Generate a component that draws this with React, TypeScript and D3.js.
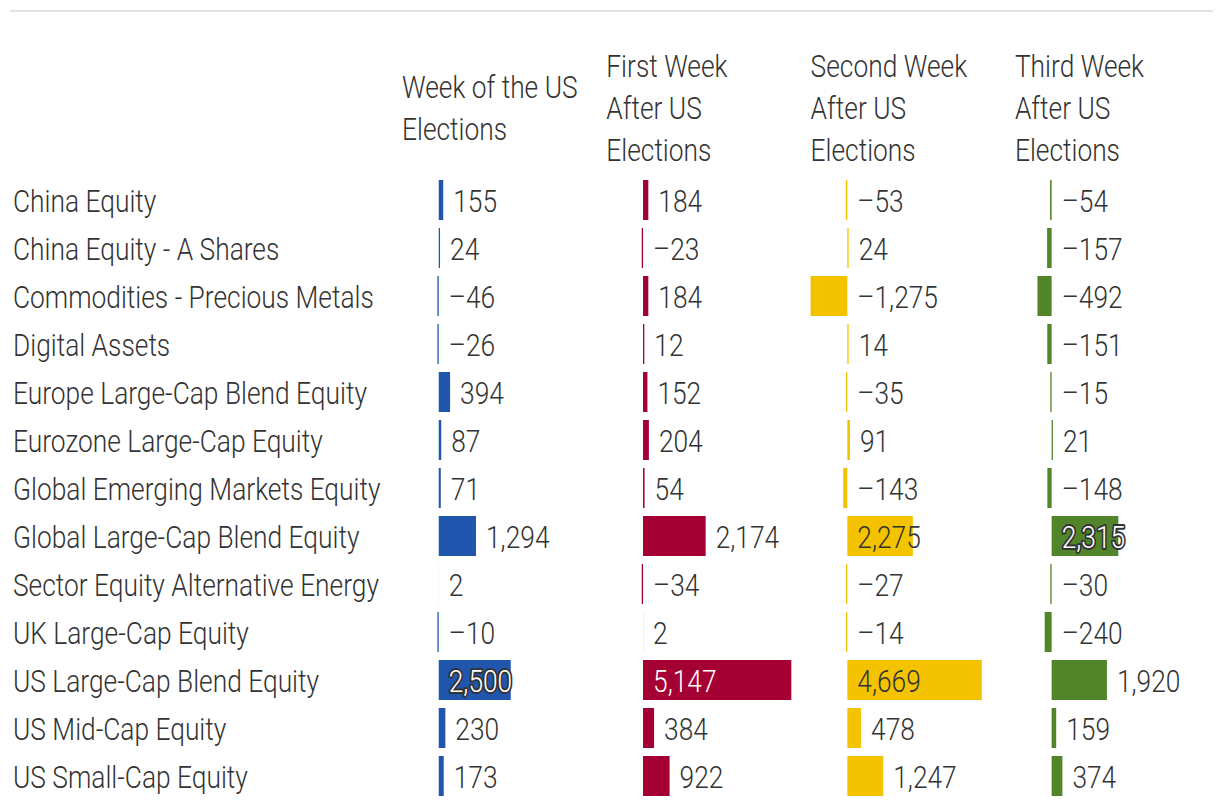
import React from "react";
import * as d3 from "d3";

const categories = [
  "China Equity",
  "China Equity - A Shares",
  "Commodities - Precious Metals",
  "Digital Assets",
  "Europe Large-Cap Blend Equity",
  "Eurozone Large-Cap Equity",
  "Global Emerging Markets Equity",
  "Global Large-Cap Blend Equity",
  "Sector Equity Alternative Energy",
  "UK Large-Cap Equity",
  "US Large-Cap Blend Equity",
  "US Mid-Cap Equity",
  "US Small-Cap Equity",
];

const columnHeaders = [
  ["Week of the US", "Elections"],
  ["First Week", "After US", "Elections"],
  ["Second Week", "After US", "Elections"],
  ["Third Week", "After US", "Elections"],
];

const weekOf = [155, 24, -46, -26, 394, 87, 71, 1294, 2, -10, 2500, 230, 173];
const firstWeek = [184, -23, 184, 12, 152, 204, 54, 2174, -34, 2, 5147, 384, 922];
const secondWeek = [-53, 24, -1275, 14, -35, 91, -143, 2275, -27, -14, 4669, 478, 1247];
const thirdWeek = [-54, -157, -492, -151, -15, 21, -148, 2315, -30, -240, 1920, 159, 374];

const series = [weekOf, firstWeek, secondWeek, thirdWeek];
const colors = ["#2156ae", "#a50034", "#f4c300", "#52852a"];
const insideFill = ["#ffffff", "#ffffff", "#333333", "#ffffff"];
const insideHalo = [true, false, false, true];

const W = 1220;
const H = 806;
const FONT = "Roboto, 'Liberation Sans', sans-serif";
const FS = 31;
const SX = 0.85;

function T(props: {
  x: number;
  y: number;
  children: React.ReactNode;
  fill?: string;
  stroke?: string;
  strokeWidth?: number;
}) {
  const { x, y, children, fill = "#333", stroke, strokeWidth } = props;
  return (
    <text
      transform={`translate(${x},${y}) scale(${SX},1)`}
      fontSize={FS}
      fontWeight={300}
      fill={fill}
      stroke={stroke}
      strokeWidth={strokeWidth}
      strokeLinejoin="round"
    >
      {children}
    </text>
  );
}

export default function App() {
  const all = series.flat();
  const minV = d3.min(all) as number;
  const maxV = d3.max(all) as number;

  const colScale = d3
    .scalePoint<number>()
    .domain(d3.range(series.length))
    .range([402, 402 + 204.3 * 3]);

  const x = d3.scaleLinear().domain([minV, maxV]).range([0, 185]);

  const y = d3
    .scaleBand<number>()
    .domain(d3.range(categories.length))
    .range([176, 800])
    .paddingInner(8 / 48)
    .paddingOuter(4 / 48);

  const fmt = d3.format(",");
  const label = (v: number) => (v < 0 ? "\u2013" + fmt(-v) : fmt(v));
  const insideThreshold = 2200;

  const headerMidBase = 119;
  const lineH = 42;

  return (
    <svg
      width={W}
      height={H}
      style={{ position: "absolute", left: 0, top: 0, background: "#fff" }}
      fontFamily={FONT}
    >
      <line x1={10} x2={1213} y1={11} y2={11} stroke="#e3e3e3" strokeWidth={2} />

      {columnHeaders.map((lines, ci) => {
        const cx = colScale(ci) as number;
        return (
          <g key={"h" + ci}>
            {lines.map((ln, li) => (
              <T key={li} x={cx} y={headerMidBase + (li - (lines.length - 1) / 2) * lineH}>
                {ln}
              </T>
            ))}
          </g>
        );
      })}

      {categories.map((c, ri) => {
        const cy = (y(ri) as number) + y.bandwidth() / 2;
        return (
          <T key={"c" + ri} x={13} y={cy + 12}>
            {c}
          </T>
        );
      })}

      {series.map((vals, ci) => {
        const cx = colScale(ci) as number;
        const x0 = cx + x(0);
        return (
          <g key={"s" + ci}>
            {vals.map((v, ri) => {
              const top = y(ri) as number;
              const cy = top + y.bandwidth() / 2;
              const xv = cx + x(v);
              let w = Math.abs(xv - x0);
              if (Math.abs(v) >= 10) w = Math.max(w, 1.3);
              const bx = v < 0 ? x0 - w : x0;
              const inside = v > insideThreshold;
              const lx = v > 0 && !inside ? x0 + w + 10 : x0 + 10;
              return (
                <g key={ri}>
                  <rect x={bx} y={top} width={w} height={y.bandwidth()} fill={colors[ci]} />
                  {inside && insideHalo[ci] ? (
                    <T x={lx} y={cy + 12} fill="none" stroke="#333" strokeWidth={4}>
                      {label(v)}
                    </T>
                  ) : null}
                  <T x={lx} y={cy + 12} fill={inside ? insideFill[ci] : "#333"}>
                    {label(v)}
                  </T>
                </g>
              );
            })}
          </g>
        );
      })}
    </svg>
  );
}
